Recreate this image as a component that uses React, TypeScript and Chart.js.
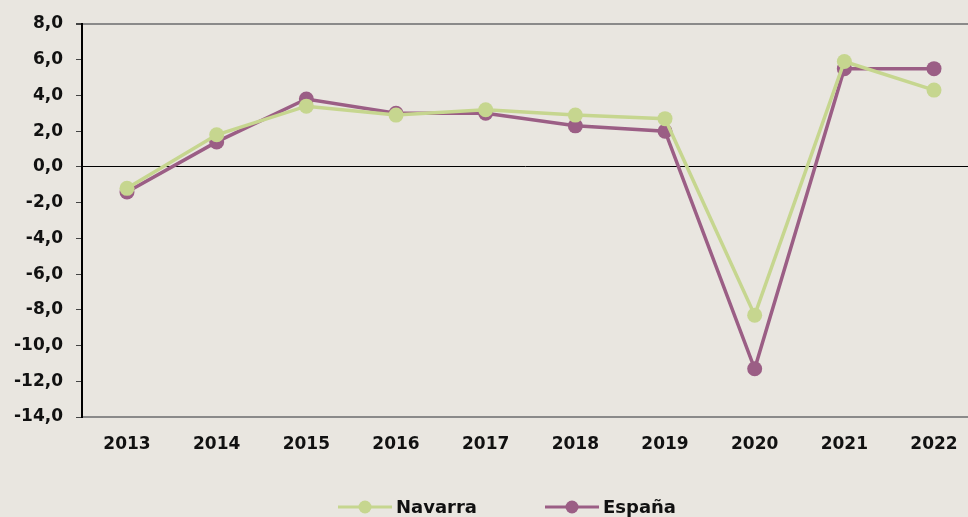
import React, { useEffect, useRef } from "react";
import { Chart, registerables } from "chart.js";

Chart.register(...registerables);

const years = ["2013", "2014", "2015", "2016", "2017", "2018", "2019", "2020", "2021", "2022"];
const navarra = [-1.2, 1.8, 3.4, 2.9, 3.2, 2.9, 2.7, -8.3, 5.9, 4.3];
const espana = [-1.4, 1.4, 3.8, 3.0, 3.0, 2.3, 2.0, -11.3, 5.5, 5.5];
const seriesNames = ["Navarra", "España"];
const colors = ["#c6d68f", "#9b5e85"];
const FONT = "'DejaVu Sans', sans-serif";

const legendPlugin = {
  id: "lineLegend",
  afterDraw(chart: any) {
    const ctx = chart.ctx;
    const y = 507;
    const items = [
      { x: 338, label: seriesNames[0], color: colors[0] },
      { x: 545, label: seriesNames[1], color: colors[1] },
    ];
    ctx.save();
    items.forEach((it) => {
      ctx.strokeStyle = it.color;
      ctx.lineWidth = 3;
      ctx.beginPath();
      ctx.moveTo(it.x, y);
      ctx.lineTo(it.x + 54, y);
      ctx.stroke();
      ctx.fillStyle = it.color;
      ctx.beginPath();
      ctx.arc(it.x + 27, y, 6.5, 0, Math.PI * 2);
      ctx.fill();
      ctx.fillStyle = "#111";
      ctx.font = `bold 18px ${FONT}`;
      ctx.textBaseline = "middle";
      ctx.textAlign = "left";
      ctx.fillText(it.label, it.x + 58, y + 1);
    });
    ctx.restore();
  },
};

const bgPlugin = {
  id: "bg",
  beforeDraw(chart: any) {
    const ctx = chart.ctx;
    ctx.save();
    ctx.fillStyle = "#e9e6e0";
    ctx.fillRect(0, 0, chart.width, chart.height);
    ctx.restore();
  },
};

const yearNums = years.map((y) => Number(y));

export default function App() {
  const ref = useRef<HTMLCanvasElement>(null);
  useEffect(() => {
    document.body.style.margin = "0";
    document.body.style.background = "#e9e6e0";
    const mk = (i: number, data: number[]) => ({
      label: seriesNames[i],
      data: data.map((v, k) => ({ x: yearNums[k], y: v })),
      borderColor: colors[i],
      backgroundColor: colors[i],
      borderWidth: 3.5,
      pointRadius: 7.5,
      pointBorderWidth: 0,
      pointBorderColor: colors[i],
      pointBackgroundColor: colors[i],
      clip: false as any,
    });
    const chart = new Chart(ref.current!, {
      type: "line",
      data: { datasets: [mk(0, navarra), mk(1, espana)] },
      options: {
        animation: false,
        responsive: false,
        layout: { autoPadding: false, padding: { left: 10, top: 24, right: 0, bottom: 0 } },
        plugins: { legend: { display: false }, tooltip: { enabled: false } },
        scales: {
          x: {
            type: "linear",
            min: yearNums[0] - 0.502,
            max: yearNums[0] + 9.379,
            afterBuildTicks: (s: any) => {
              s.ticks = yearNums.map((v) => ({ value: v }));
            },
            afterFit: (s: any) => {
              s.height = 100;
            },
            grid: { display: false },
            border: { display: true, color: "#8a8a8a", width: 2 },
            ticks: {
              color: "#111",
              font: { family: FONT, size: 17, weight: "bold" },
              padding: 9,
              maxRotation: 0,
              autoSkip: false,
              callback: (v: any) => String(v),
            },
          },
          y: {
            min: -14,
            max: 8,
            afterFit: (s: any) => {
              s.width = 72;
            },
            ticks: {
              stepSize: 2,
              color: "#111",
              padding: 13,
              font: { family: FONT, size: 17, weight: "bold" },
              callback: (v: any) => Number(v).toFixed(1).replace(".", ","),
            },
            grid: {
              drawOnChartArea: true,
              tickLength: 6,
              tickColor: "#444",
              color: (c: any) =>
                c.tick && c.tick.value === 0 ? "#000" : c.tick && c.tick.value === 8 ? "#8a8a8a" : "rgba(0,0,0,0)",
              lineWidth: (c: any) => (c.tick && c.tick.value === 8 ? 2 : 1),
            },
            border: { display: true, color: "#000", width: 2 },
          },
        },
      },
      plugins: [bgPlugin, legendPlugin],
    });
    return () => chart.destroy();
  }, []);
  return <canvas ref={ref} width={968} height={517} style={{ display: "block" }} />;
}
